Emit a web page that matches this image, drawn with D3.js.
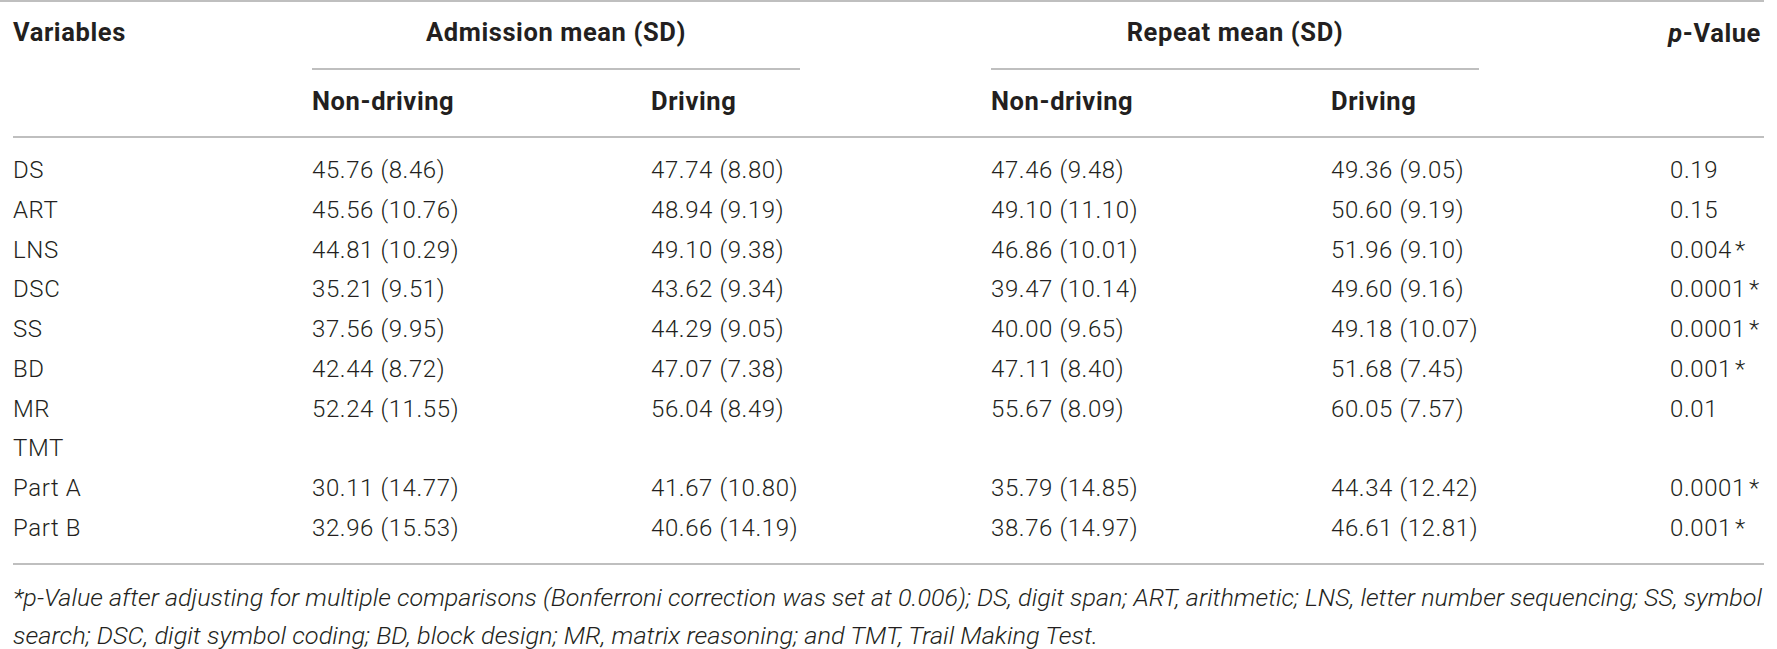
<html>
<head>
<script src="https://d3js.org/d3.v7.min.js"></script>
<style>
  body { margin: 0; background: #fff; }
  svg text { fill: #231f20; font-family: "Helvetica Neue", Roboto, "Liberation Sans", sans-serif; }
  .hd { font-weight: bold; font-size: 25.5px; letter-spacing: 0.6px; }
  .cell { font-weight: 300; font-size: 24px; letter-spacing: 0.6px; }
  .note { font-style: italic; font-weight: 300; font-size: 23px; }
  .rule { stroke: #aaa; stroke-width: 1.6; }
</style>
</head>
<body>
<script>
// table content
var variables = ["DS", "ART", "LNS", "DSC", "SS", "BD", "MR", "TMT", "Part A", "Part B"];
var admNonMean = [45.76, 45.56, 44.81, 35.21, 37.56, 42.44, 52.24, null, 30.11, 32.96];
var admNonSD   = [8.46, 10.76, 10.29, 9.51, 9.95, 8.72, 11.55, null, 14.77, 15.53];
var admDrvMean = [47.74, 48.94, 49.10, 43.62, 44.29, 47.07, 56.04, null, 41.67, 40.66];
var admDrvSD   = [8.80, 9.19, 9.38, 9.34, 9.05, 7.38, 8.49, null, 10.80, 14.19];
var repNonMean = [47.46, 49.10, 46.86, 39.47, 40.00, 47.11, 55.67, null, 35.79, 38.76];
var repNonSD   = [9.48, 11.10, 10.01, 10.14, 9.65, 8.40, 8.09, null, 14.85, 14.97];
var repDrvMean = [49.36, 50.60, 51.96, 49.60, 49.18, 51.68, 60.05, null, 44.34, 46.61];
var repDrvSD   = [9.05, 9.19, 9.10, 9.16, 10.07, 7.45, 7.57, null, 12.42, 12.81];
var pValues    = ["0.19", "0.15", "0.004", "0.0001", "0.0001", "0.001", "0.01", null, "0.0001", "0.001"];
var pSig       = [false, false, true, true, true, true, false, false, true, true];

var groups = ["Admission mean (SD)", "Repeat mean (SD)"];
var subHeads = ["Non-driving", "Driving", "Non-driving", "Driving"];
var noteLines = [
  "*p-Value after adjusting for multiple comparisons (Bonferroni correction was set at 0.006); DS, digit span; ART, arithmetic; LNS, letter number sequencing; SS, symbol",
  "search; DSC, digit symbol coding; BD, block design; MR, matrix reasoning; and TMT, Trail Making Test."
];

var W = 1777, H = 649;
var svg = d3.select("body").append("svg").attr("width", W).attr("height", H);

var f2 = d3.format(".2f");
var cols = ["var", "an", "ad", "rn", "rd", "p"];
var x = d3.scaleOrdinal().domain(cols).range([13, 312, 651, 991, 1331, 1670]);
var y = d3.scalePoint().domain(variables).range([178, 536]);
var right = 1764;

// rules
var rules = [
  [0, right, 1], [x("an"), 800, 69], [x("rn"), 1479, 69], [13, right, 137], [13, right, 564]
];
svg.selectAll("line.rule").data(rules).enter().append("line")
  .attr("class", "rule")
  .attr("x1", function (d) { return d[0]; })
  .attr("x2", function (d) { return d[1]; })
  .attr("y1", function (d) { return d[2]; })
  .attr("y2", function (d) { return d[2]; });

// header
svg.append("text").attr("class", "hd").attr("x", x("var")).attr("y", 41).text("Variables");
svg.selectAll("text.grp").data(groups).enter().append("text")
  .attr("class", "hd grp")
  .attr("text-anchor", "middle")
  .attr("x", function (d, i) { return i == 0 ? (x("an") + 800) / 2 : (x("rn") + 1479) / 2; })
  .attr("y", 41)
  .text(String);
var ph = svg.append("text").attr("class", "hd").attr("x", 1761).attr("y", 42).attr("text-anchor", "end");
ph.append("tspan").style("font-style", "italic").text("p");
ph.append("tspan").text("-Value");

svg.selectAll("text.sub").data(subHeads).enter().append("text")
  .attr("class", "hd sub")
  .attr("x", function (d, i) { return x(cols[i + 1]); })
  .attr("y", 110)
  .text(String);

// body rows
function cell(m, s) { return m == null ? "" : f2(m) + " (" + f2(s) + ")"; }
var rows = variables.map(function (v, i) {
  return {
    v: v,
    an: cell(admNonMean[i], admNonSD[i]),
    ad: cell(admDrvMean[i], admDrvSD[i]),
    rn: cell(repNonMean[i], repNonSD[i]),
    rd: cell(repDrvMean[i], repDrvSD[i]),
    p: pValues[i] || "",
    sig: pSig[i]
  };
});

var g = svg.selectAll("g.row").data(rows).enter().append("g")
  .attr("class", "row")
  .attr("transform", function (d) { return "translate(0," + y(d.v) + ")"; });

g.append("text").attr("class", "cell").attr("x", x("var")).text(function (d) { return d.v; });
["an", "ad", "rn", "rd"].forEach(function (k) {
  g.append("text").attr("class", "cell").attr("x", x(k)).text(function (d) { return d[k]; });
});
var pt = g.append("text").attr("class", "cell").attr("x", x("p"));
pt.append("tspan").text(function (d) { return d.p; });
pt.append("tspan").attr("dx", 3).text(function (d) { return d.sig ? "*" : ""; });

// footnote, first line stretched to the table width
var notes = svg.selectAll("text.note").data(noteLines).enter().append("text")
  .attr("class", "note")
  .attr("x", 13)
  .attr("y", function (d, i) { return 606 + i * 38; })
  .text(String);
var n0 = notes.nodes()[0].getComputedTextLength();
var k = (1762 - 13) / n0;
notes.attr("textLength", function (d, i) { return this.getComputedTextLength() * k * (i == 1 ? 1.01 : 1); })
  .attr("lengthAdjust", "spacingAndGlyphs");
</script>
</body>
</html>
